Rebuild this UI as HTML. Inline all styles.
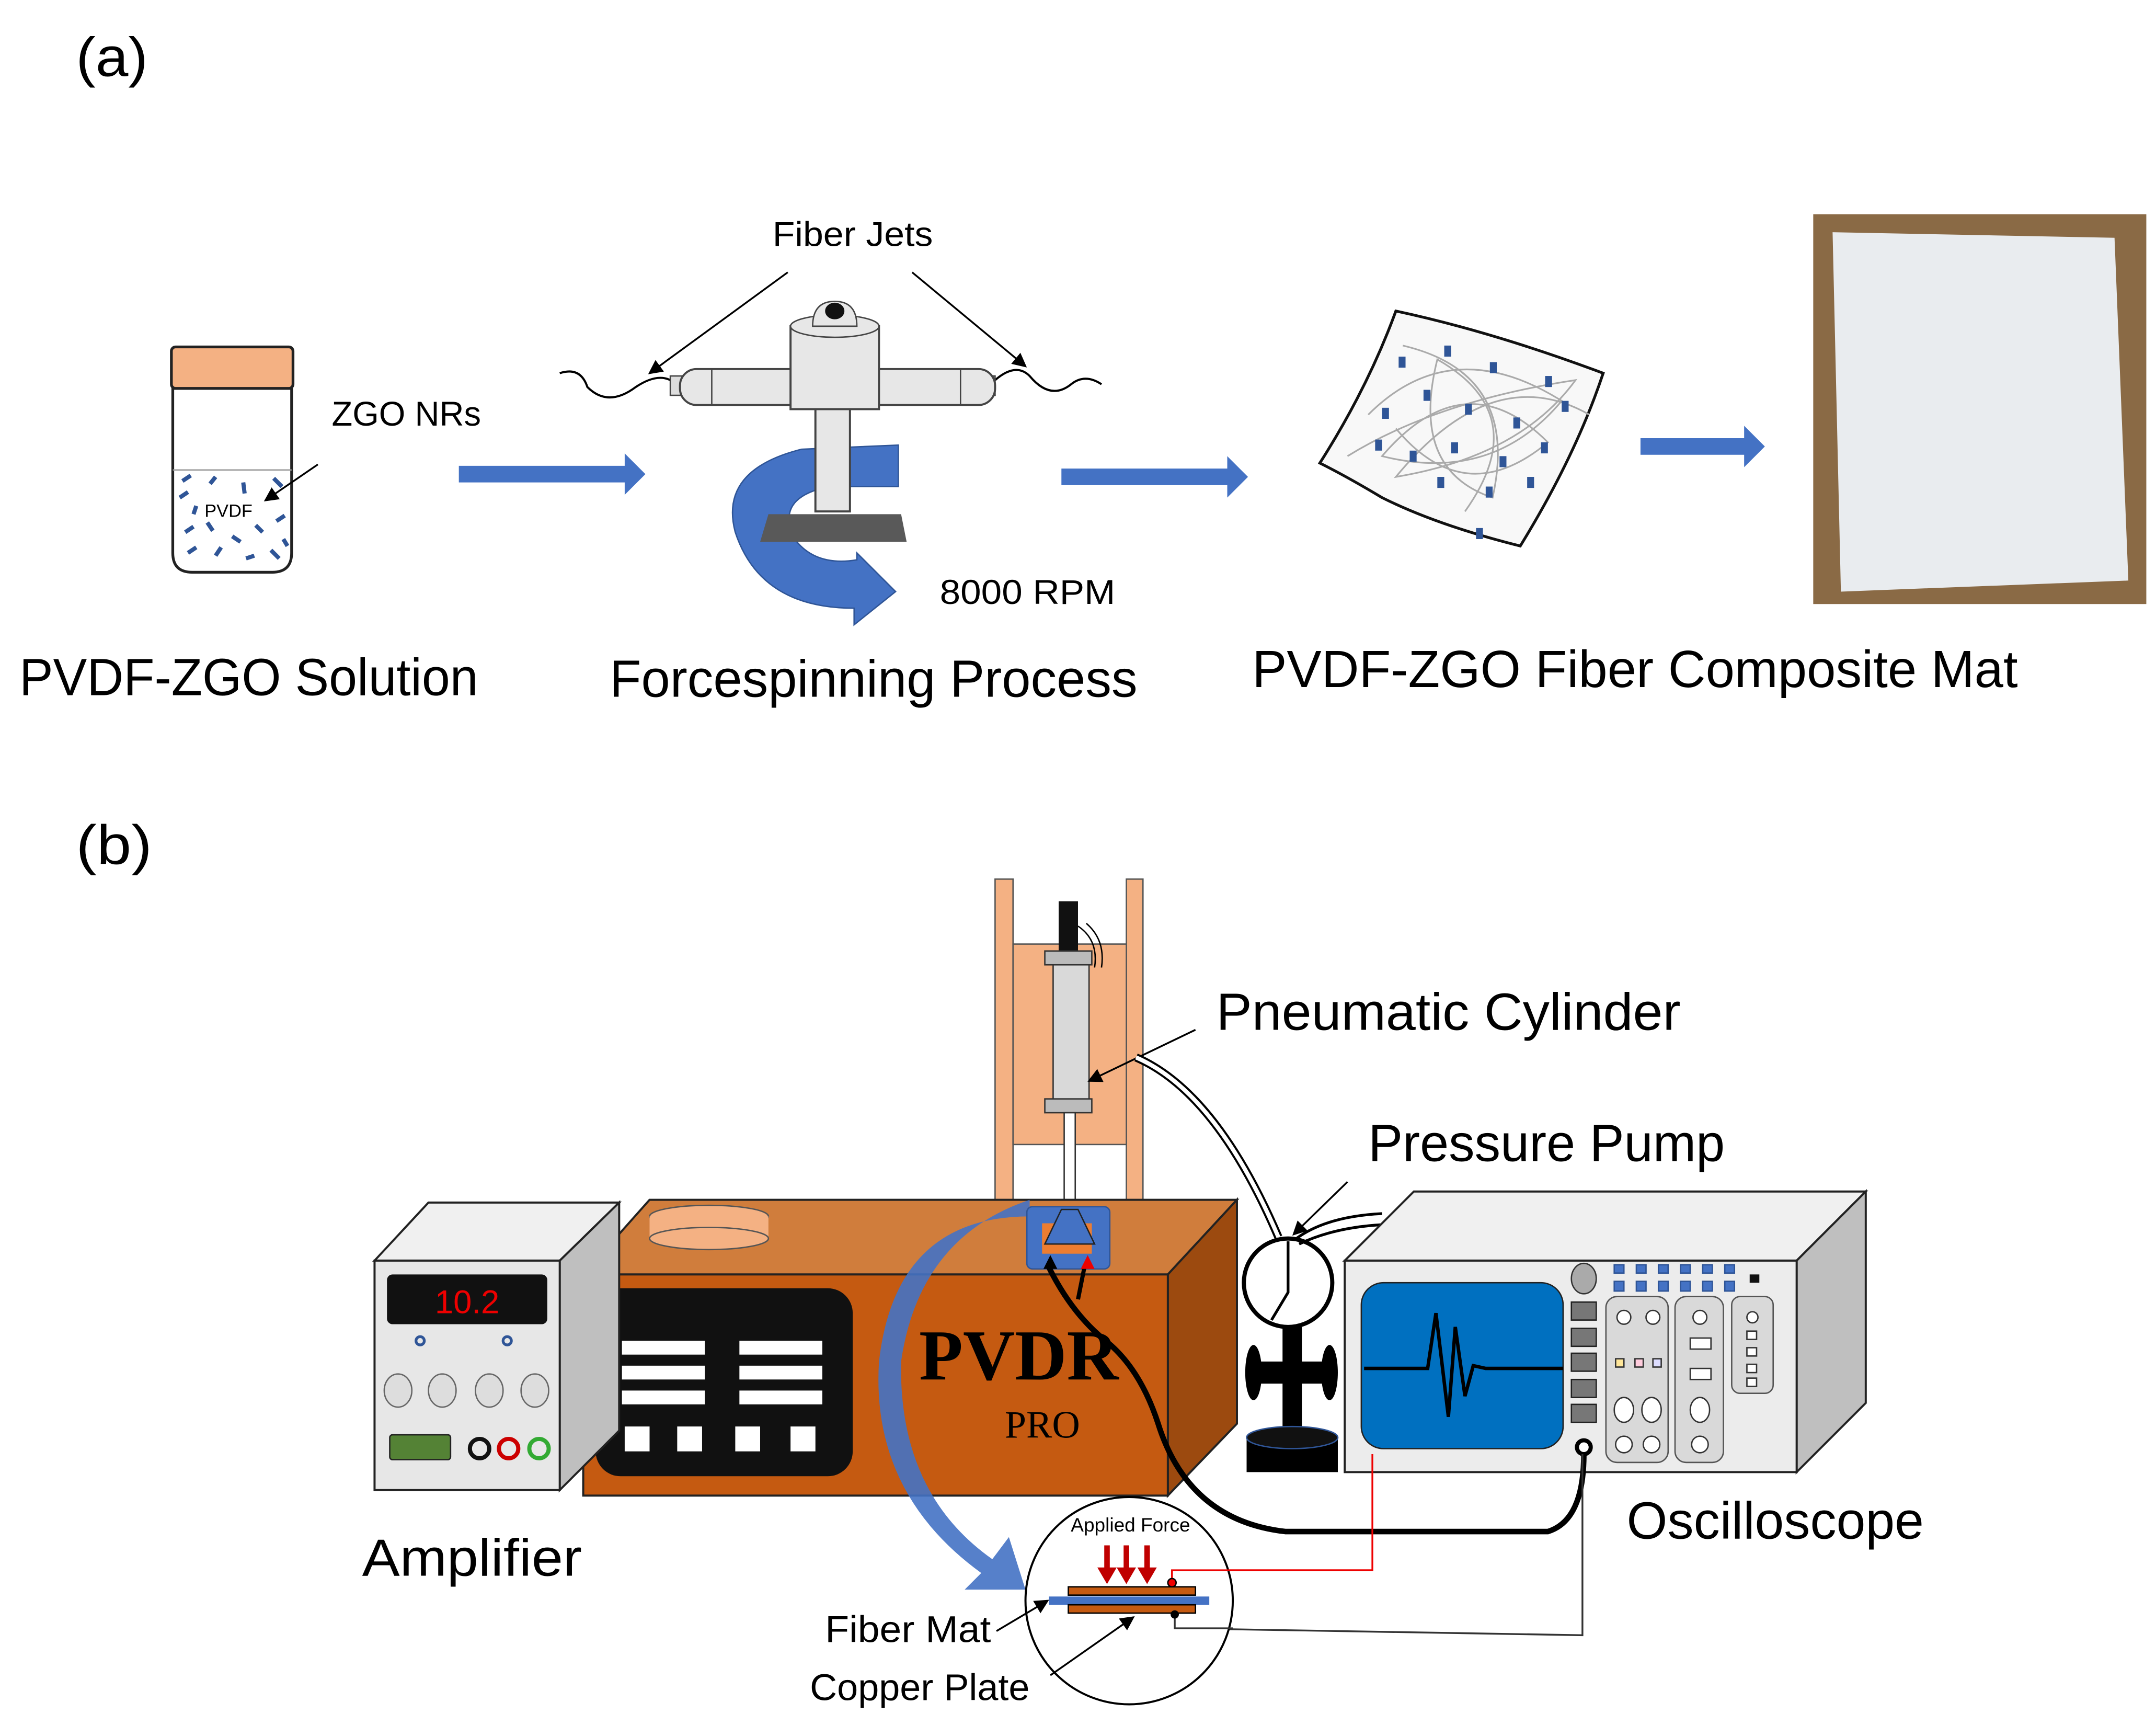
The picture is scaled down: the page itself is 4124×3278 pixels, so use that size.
<!DOCTYPE html>
<html><head><meta charset="utf-8"><style>html,body{margin:0;padding:0;background:#fff}svg{display:block}text{font-family:"Liberation Sans",sans-serif}</style></head><body>
<svg width="4124" height="3278" viewBox="0 0 1560 1240" xmlns="http://www.w3.org/2000/svg">
<defs>
<marker id="ah" markerWidth="8" markerHeight="8" refX="7" refY="4" orient="auto"><path d="M0,0 L8,4 L0,8 z" fill="#000"/></marker>
</defs>
<rect width="1560" height="1240" fill="#fff"/>
<text x="55" y="55" font-size="40" textLength="52" lengthAdjust="spacingAndGlyphs">(a)</text>
<!-- vial -->
<rect x="124" y="251" width="88" height="30" rx="3" fill="#f4b183" stroke="#222" stroke-width="2"/>
<path d="M125,281 L211,281 L211,400 Q211,414 197,414 L139,414 Q125,414 125,400 Z" fill="#fff" stroke="#222" stroke-width="2"/>
<line x1="125" y1="340" x2="211" y2="340" stroke="#999" stroke-width="1"/>
<g stroke="#2f5597" stroke-width="3">
<line x1="132" y1="348" x2="138" y2="344"/><line x1="152" y1="350" x2="156" y2="345"/><line x1="176" y1="349" x2="177" y2="357"/><line x1="198" y1="346" x2="204" y2="352"/>
<line x1="130" y1="360" x2="136" y2="356"/><line x1="142" y1="366" x2="140" y2="372"/><line x1="200" y1="377" x2="206" y2="373"/>
<line x1="134" y1="385" x2="140" y2="381"/><line x1="150" y1="378" x2="154" y2="384"/><line x1="168" y1="388" x2="174" y2="392"/><line x1="185" y1="380" x2="190" y2="385"/>
<line x1="136" y1="400" x2="142" y2="396"/><line x1="156" y1="402" x2="160" y2="396"/><line x1="178" y1="404" x2="184" y2="402"/><line x1="196" y1="398" x2="202" y2="404"/><line x1="205" y1="390" x2="208" y2="395"/>
</g>
<text x="148" y="374" font-size="13">PVDF</text>
<text x="240" y="308" font-size="25" textLength="108" lengthAdjust="spacingAndGlyphs">ZGO NRs</text>
<line x1="230" y1="336" x2="192" y2="362" stroke="#000" stroke-width="1.3" marker-end="url(#ah)"/>
<!-- arrows -->
<g fill="#4472c4">
<path d="M332,337 L452,337 L452,328 L467,343 L452,358 L452,349 L332,349Z"/>
<path d="M768,339 L888,339 L888,330 L903,345 L888,360 L888,351 L768,351Z"/>
<path d="M1187,317 L1262,317 L1262,308 L1277,323 L1262,338 L1262,329 L1187,329Z"/>
</g>
<!-- forcespinner -->
<text x="559" y="178" font-size="25" textLength="116" lengthAdjust="spacingAndGlyphs">Fiber Jets</text>
<line x1="570" y1="197" x2="470" y2="270" stroke="#000" stroke-width="1.3" marker-end="url(#ah)"/>
<line x1="660" y1="197" x2="742" y2="265" stroke="#000" stroke-width="1.3" marker-end="url(#ah)"/>
<path d="M405,270 Q420,265 425,280 Q440,295 460,280 Q475,270 485,275" fill="none" stroke="#000" stroke-width="1.5"/>
<path d="M720,275 Q735,262 745,272 Q760,290 775,278 Q785,270 797,278" fill="none" stroke="#000" stroke-width="1.5"/>
<path d="M532,385 Q520,340 580,325 L650,322 L650,352 L600,352 Q560,360 575,390 Q590,410 620,405 L620,400 L648,428 L618,452 L618,440 Q550,440 532,385Z" fill="#4472c4" stroke="#2f5597"/>
<rect x="485" y="272" width="10" height="14" fill="#ddd" stroke="#444"/>
<rect x="710" y="272" width="10" height="14" fill="#ddd" stroke="#444"/>
<rect x="492" y="267" width="228" height="26" rx="12" fill="#e7e7e7" stroke="#444" stroke-width="1.5"/>
<line x1="515" y1="267" x2="515" y2="293" stroke="#444"/><line x1="695" y1="267" x2="695" y2="293" stroke="#444"/>
<rect x="590" y="295" width="25" height="75" fill="#e7e7e7" stroke="#444" stroke-width="1.5"/>
<rect x="572" y="236" width="64" height="60" fill="#e7e7e7" stroke="#444" stroke-width="1.5"/>
<ellipse cx="604" cy="236" rx="32" ry="8" fill="#e7e7e7" stroke="#444"/>
<path d="M588,236 Q588,218 604,218 Q620,218 620,236Z" fill="#e7e7e7" stroke="#444"/>
<ellipse cx="604" cy="225" rx="7" ry="6" fill="#111"/>
<path d="M556,372 L652,372 L656,392 L550,392Z" fill="#595959"/>
<text x="680" y="437" font-size="25" textLength="127" lengthAdjust="spacingAndGlyphs">8000 RPM</text>
<!-- mat -->
<path d="M955,335 Q990,280 1010,225 Q1080,240 1160,270 Q1140,330 1100,395 Q1040,380 1000,360 Q975,345 955,335Z" fill="#f8f8f8" stroke="#111" stroke-width="2"/>
<g fill="none" stroke="#aaa" stroke-width="1.2">
<path d="M990,300 Q1050,240 1130,290 Q1080,350 1000,330 Q1060,260 1120,320 Q1060,370 1010,310"/>
<path d="M1015,250 Q1100,270 1080,360 Q1020,340 1040,260 Q1110,300 1060,370"/>
<path d="M975,330 Q1040,290 1140,275 Q1100,330 1010,345 Q1080,260 1150,300"/>
</g>
<g fill="#2f5597">
<rect x="1012" y="258" width="5" height="8"/><rect x="1045" y="250" width="5" height="8"/><rect x="1078" y="262" width="5" height="8"/><rect x="1118" y="272" width="5" height="8"/>
<rect x="1000" y="295" width="5" height="8"/><rect x="1030" y="282" width="5" height="8"/><rect x="1060" y="292" width="5" height="8"/><rect x="1095" y="302" width="5" height="8"/><rect x="1130" y="290" width="5" height="8"/>
<rect x="995" y="318" width="5" height="8"/><rect x="1020" y="326" width="5" height="8"/><rect x="1050" y="320" width="5" height="8"/><rect x="1085" y="330" width="5" height="8"/><rect x="1115" y="320" width="5" height="8"/>
<rect x="1040" y="345" width="5" height="8"/><rect x="1075" y="352" width="5" height="8"/><rect x="1068" y="382" width="5" height="8"/><rect x="1105" y="345" width="5" height="8"/>
</g>
<!-- photo -->
<rect x="1312" y="155" width="241" height="282" fill="#8a6a45"/>
<path d="M1326,168 L1530,172 L1540,420 L1332,428 Z" fill="#e9ecef"/>
<text x="14" y="503" font-size="38" textLength="332" lengthAdjust="spacingAndGlyphs">PVDF-ZGO Solution</text>
<text x="441" y="504" font-size="38" textLength="382" lengthAdjust="spacingAndGlyphs">Forcespinning Process</text>
<text x="906" y="497" font-size="38" textLength="554" lengthAdjust="spacingAndGlyphs">PVDF-ZGO Fiber Composite Mat</text>
<!-- (b) -->
<text x="55" y="625" font-size="40" textLength="55" lengthAdjust="spacingAndGlyphs">(b)</text>
<!-- frame -->
<rect x="720" y="636" width="13" height="232" fill="#f4b183" stroke="#555"/>
<rect x="815" y="636" width="12" height="232" fill="#f4b183" stroke="#555"/>
<rect x="733" y="683" width="82" height="145" fill="#f4b183" stroke="#555"/>
<rect x="766" y="652" width="14" height="40" fill="#111"/>
<rect x="762" y="690" width="26" height="110" fill="#d9d9d9" stroke="#333"/>
<rect x="756" y="688" width="34" height="10" fill="#bbb" stroke="#333"/>
<rect x="756" y="795" width="34" height="10" fill="#bbb" stroke="#333"/>
<rect x="770" y="805" width="8" height="70" fill="#fff" stroke="#333"/>
<path d="M780,670 Q795,680 792,700 M786,668 Q800,680 797,700" fill="none" stroke="#000"/>
<line x1="865" y1="745" x2="788" y2="782" stroke="#000" stroke-width="1.3" marker-end="url(#ah)"/>
<text x="880" y="745" font-size="38" textLength="336" lengthAdjust="spacingAndGlyphs">Pneumatic Cylinder</text>
<!-- hose -->
<path d="M822,765 Q880,790 925,895" fill="none" stroke="#000" stroke-width="6"/>
<path d="M822,765 Q880,790 925,895" fill="none" stroke="#fff" stroke-width="3"/>
<!-- main box -->
<path d="M470,868 L895,868 L845,922 L422,922Z" fill="#d07d3c" stroke="#222" stroke-width="1.5"/>
<path d="M845,922 L895,868 L895,1030 L845,1082Z" fill="#9c4a0f" stroke="#222" stroke-width="1.5"/>
<rect x="422" y="922" width="423" height="160" fill="#c55a11" stroke="#222" stroke-width="1.5"/>
<ellipse cx="513" cy="880" rx="43" ry="8" fill="#f4b183" stroke="#555"/>
<rect x="470" y="880" width="86" height="16" fill="#f4b183"/>
<ellipse cx="513" cy="896" rx="43" ry="8" fill="#f4b183" stroke="#555"/>
<rect x="431" y="932" width="186" height="136" rx="18" fill="#111"/>
<g fill="#fff">
<rect x="450" y="970" width="60" height="10"/><rect x="535" y="970" width="60" height="10"/>
<rect x="450" y="988" width="60" height="10"/><rect x="535" y="988" width="60" height="10"/>
<rect x="450" y="1006" width="60" height="10"/><rect x="535" y="1006" width="60" height="10"/>
<rect x="452" y="1032" width="18" height="18"/><rect x="490" y="1032" width="18" height="18"/><rect x="532" y="1032" width="18" height="18"/><rect x="572" y="1032" width="18" height="18"/>
</g>
<path d="M745,868 Q665,895 652,985 Q650,1080 718,1128 L730,1112 L742,1150 L698,1150 L710,1138 Q630,1080 636,985 Q648,880 745,880Z" fill="#4472c4" opacity="0.9"/>
<text x="665" y="998" font-size="52" font-weight="bold" style="font-family:'Liberation Serif',serif">PVDR</text>
<text x="727" y="1040" font-size="28" style="font-family:'Liberation Serif',serif">PRO</text>
<rect x="743" y="873" width="60" height="45" rx="4" fill="#4472c4" stroke="#2f5597"/>
<rect x="754" y="885" width="36" height="22" fill="#ed7d31"/>
<path d="M768,875 L780,875 L792,900 L756,900Z" fill="#4472c4" stroke="#222"/>
<!-- amplifier -->
<path d="M271,912 L310,870 L448,870 L405,912Z" fill="#f0f0f0" stroke="#222" stroke-width="1.5"/>
<path d="M405,912 L448,870 L448,1035 L405,1078Z" fill="#bfbfbf" stroke="#222" stroke-width="1.5"/>
<rect x="271" y="912" width="134" height="166" fill="#e7e7e7" stroke="#222" stroke-width="1.5"/>
<rect x="280" y="922" width="116" height="36" rx="4" fill="#111"/>
<text x="338" y="950" font-size="24" fill="#e00" text-anchor="middle">10.2</text>
<circle cx="304" cy="970" r="3" fill="none" stroke="#2f5597" stroke-width="2"/><circle cx="367" cy="970" r="3" fill="none" stroke="#2f5597" stroke-width="2"/>
<g fill="#ddd" stroke="#666"><ellipse cx="288" cy="1006" rx="10" ry="12"/><ellipse cx="320" cy="1006" rx="10" ry="12"/><ellipse cx="354" cy="1006" rx="10" ry="12"/><ellipse cx="387" cy="1006" rx="10" ry="12"/></g>
<rect x="282" y="1038" width="44" height="18" rx="2" fill="#548235" stroke="#222"/>
<circle cx="347" cy="1048" r="7" fill="none" stroke="#111" stroke-width="3"/><circle cx="368" cy="1048" r="7" fill="none" stroke="#c00" stroke-width="3"/><circle cx="390" cy="1048" r="7" fill="none" stroke="#3a3" stroke-width="3"/>
<text x="262" y="1140" font-size="38" textLength="159" lengthAdjust="spacingAndGlyphs">Amplifier</text>
<!-- pump -->
<rect x="928" y="960" width="14" height="80" fill="#000"/>
<rect x="910" y="985" width="50" height="16" fill="#000"/>
<ellipse cx="907" cy="993" rx="6" ry="20" fill="#000"/><ellipse cx="962" cy="993" rx="6" ry="20" fill="#000"/>
<rect x="902" y="1040" width="66" height="25" fill="#000"/><ellipse cx="935" cy="1040" rx="33" ry="8" fill="#111" stroke="#2f5597"/>
<circle cx="932" cy="928" r="32" fill="#fff" stroke="#000" stroke-width="3"/>
<path d="M932,898 L932,935 L920,955" fill="none" stroke="#000" stroke-width="2"/>
<path d="M938,896 Q960,880 1000,878 M940,900 Q965,888 1000,886" fill="none" stroke="#000" stroke-width="2"/>
<line x1="975" y1="855" x2="936" y2="893" stroke="#000" stroke-width="1.3" marker-end="url(#ah)"/>
<text x="990" y="840" font-size="38" textLength="258" lengthAdjust="spacingAndGlyphs">Pressure Pump</text>
<!-- oscilloscope -->
<path d="M973,912 L1023,862 L1350,862 L1300,912Z" fill="#f0f0f0" stroke="#222" stroke-width="1.5"/>
<path d="M1300,912 L1350,862 L1350,1015 L1300,1065Z" fill="#bfbfbf" stroke="#222" stroke-width="1.5"/>
<rect x="973" y="912" width="327" height="153" fill="#ececec" stroke="#222" stroke-width="1.5"/>
<rect x="985" y="928" width="146" height="120" rx="16" fill="#0070c0" stroke="#222"/>
<path d="M987,990 L1033,990 L1039,950 L1048,1025 L1053,960 L1060,1010 L1066,988 L1075,990 L1131,990" fill="none" stroke="#000" stroke-width="2.5"/>
<ellipse cx="1146" cy="925" rx="9" ry="11" fill="#aaa" stroke="#333"/>
<g fill="#4472c4" stroke="#2f5597"><rect x="1168" y="915" width="7" height="6"/><rect x="1184" y="915" width="7" height="6"/><rect x="1200" y="915" width="7" height="6"/><rect x="1216" y="915" width="7" height="6"/><rect x="1232" y="915" width="7" height="6"/><rect x="1248" y="915" width="7" height="6"/>
<rect x="1168" y="927" width="7" height="7"/><rect x="1184" y="927" width="7" height="7"/><rect x="1200" y="927" width="7" height="7"/><rect x="1216" y="927" width="7" height="7"/><rect x="1232" y="927" width="7" height="7"/><rect x="1248" y="927" width="7" height="7"/></g>
<rect x="1266" y="922" width="7" height="6" fill="#111"/>
<g fill="#777" stroke="#222"><rect x="1137" y="942" width="18" height="13"/><rect x="1137" y="961" width="18" height="13"/><rect x="1137" y="979" width="18" height="13"/><rect x="1137" y="998" width="18" height="13"/><rect x="1137" y="1016" width="18" height="13"/></g>
<rect x="1162" y="938" width="45" height="120" rx="8" fill="#d9d9d9" stroke="#555"/>
<rect x="1212" y="938" width="35" height="120" rx="8" fill="#d9d9d9" stroke="#555"/>
<rect x="1253" y="938" width="30" height="70" rx="6" fill="#d9d9d9" stroke="#555"/>
<g fill="#fff" stroke="#333"><circle cx="1175" cy="953" r="5"/><circle cx="1196" cy="953" r="5"/><circle cx="1230" cy="953" r="5"/><circle cx="1268" cy="953" r="4"/>
<rect x="1223" y="968" width="15" height="8"/><rect x="1223" y="990" width="15" height="8"/>
<rect x="1264" y="963" width="7" height="6"/><rect x="1264" y="975" width="7" height="6"/><rect x="1264" y="987" width="7" height="6"/><rect x="1264" y="997" width="7" height="6"/>
<ellipse cx="1175" cy="1020" rx="7" ry="9"/><ellipse cx="1195" cy="1020" rx="7" ry="9"/><ellipse cx="1230" cy="1020" rx="7" ry="9"/>
<circle cx="1175" cy="1045" r="6"/><circle cx="1195" cy="1045" r="6"/><circle cx="1230" cy="1045" r="6"/></g>
<rect x="1169" y="983" width="6" height="6" fill="#ffe699" stroke="#333"/><rect x="1183" y="983" width="6" height="6" fill="#fcd" stroke="#333"/><rect x="1196" y="983" width="6" height="6" fill="#ddf" stroke="#333"/>
<circle cx="1146" cy="1047" r="5" fill="#fff" stroke="#000" stroke-width="3"/>
<text x="1177" y="1113" font-size="38" textLength="215" lengthAdjust="spacingAndGlyphs">Oscilloscope</text>
<!-- cables -->
<path d="M758,915 Q775,950 800,970 Q825,990 838,1030 Q860,1100 930,1108 L1120,1108 Q1146,1100 1146,1052" fill="none" stroke="#000" stroke-width="4"/>
<path d="M785,915 L780,940" fill="none" stroke="#000" stroke-width="3"/>
<path d="M755,918 L760,908 L765,918Z" fill="#000"/><path d="M782,918 L787,908 L792,918Z" fill="#e00"/>
<path d="M993,1052 L993,1136 L848,1136 L848,1145" fill="none" stroke="#e00" stroke-width="1.3"/>
<path d="M1145,1052 L1145,1183 L850,1178 L850,1168" fill="none" stroke="#333" stroke-width="1.3"/>
<!-- inset -->
<circle cx="817" cy="1158" r="75" fill="#fff" stroke="#000" stroke-width="1.5"/>
<path d="M993,1136 L848,1136 L848,1145" fill="none" stroke="#e00" stroke-width="1.3"/>
<path d="M892,1178 L850,1178 L850,1168" fill="none" stroke="#333" stroke-width="1.3"/>
<text x="818" y="1108" font-size="14" text-anchor="middle">Applied Force</text>
<g fill="#c00000"><rect x="799" y="1118" width="4" height="20"/><path d="M794,1134 L808,1134 L801,1146Z"/>
<rect x="813" y="1118" width="4" height="20"/><path d="M808,1134 L822,1134 L815,1146Z"/>
<rect x="828" y="1118" width="4" height="20"/><path d="M823,1134 L837,1134 L830,1146Z"/></g>
<rect x="773" y="1148" width="92" height="6" fill="#c55a11" stroke="#000"/>
<rect x="759" y="1155" width="116" height="6" fill="#4472c4"/>
<rect x="773" y="1161" width="92" height="6" fill="#c55a11" stroke="#000"/>
<circle cx="848" cy="1145" r="3" fill="#e00" stroke="#000"/><circle cx="850" cy="1168" r="3" fill="#000"/>
<line x1="721" y1="1180" x2="758" y2="1158" stroke="#000" stroke-width="1.3" marker-end="url(#ah)"/>
<line x1="760" y1="1212" x2="820" y2="1170" stroke="#000" stroke-width="1.3" marker-end="url(#ah)"/>
<text x="597" y="1188" font-size="27" textLength="120" lengthAdjust="spacingAndGlyphs">Fiber Mat</text>
<text x="586" y="1230" font-size="27" textLength="159" lengthAdjust="spacingAndGlyphs">Copper Plate</text>
</svg>
</body></html>
